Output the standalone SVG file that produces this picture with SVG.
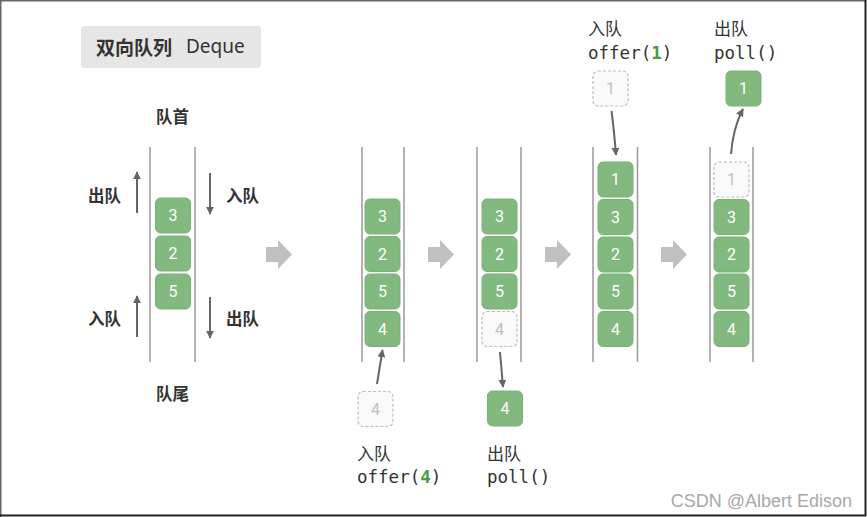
<svg xmlns="http://www.w3.org/2000/svg" width="867" height="517" viewBox="0 0 867 517">
<defs>
<marker id="ah" viewBox="0 0 10 10" refX="9" refY="5" markerWidth="8" markerHeight="8" markerUnits="userSpaceOnUse" orient="auto">
<path d="M0,0 L10,5 L0,10 z" fill="#666"/>
</marker>
<style>
.wall{stroke:#999;stroke-width:1.5;fill:none}
.box{fill:#82b97f;stroke:#7ab177;stroke-width:1}
.dbox{fill:#fafafa;stroke:#bdbdbd;stroke-width:1.2;stroke-dasharray:3 2}
.num{font-family:Roboto,"Open Sans",sans-serif;font-size:16px;fill:#fff;text-anchor:middle;dominant-baseline:central}
.dnum{font-family:Roboto,"Open Sans",sans-serif;font-size:16px;fill:#c0c0c0;text-anchor:middle;dominant-baseline:central}
.lab{font-family:"Noto Sans CJK SC","Noto Sans",sans-serif;font-size:16.5px;font-weight:bold;fill:#333;dominant-baseline:central}
.lab2{font-family:"Noto Sans CJK SC","Noto Sans",sans-serif;font-size:17px;fill:#333;dominant-baseline:central}
.mono{font-family:"DejaVu Sans Mono","Liberation Mono",monospace;font-size:17.5px;fill:#333;dominant-baseline:central}
.hl{font-weight:bold;fill:#4a9a46}
.arr{stroke:#666;stroke-width:2;fill:none;marker-end:url(#ah)}
.big{fill:#c0c0c0}
</style>
</defs>
<rect x="0" y="0" width="867" height="517" fill="#fff"/>
<path d="M0.75,517 V0.75 H866" stroke="#666" stroke-width="1.5" fill="none"/>
<path d="M865.5,0 V515.5 H0" stroke="#222" stroke-width="2" fill="none"/>

<g id="title">
<rect x="81" y="26" width="180" height="42" rx="3" fill="#e6e6e6"/>
<text x="96" y="46" class="lab" style="font-size:19px">双向队列</text>
<text x="186" y="46" style="font-family:'Noto Sans',sans-serif;font-size:19px;fill:#333;dominant-baseline:central">Deque</text>
</g>

<g id="stack1">
<line class="wall" x1="150" y1="147" x2="150" y2="362"/>
<line class="wall" x1="195" y1="147" x2="195" y2="362"/>
<rect class="box" x="155.5" y="198" width="35" height="35" rx="5"/><text class="num" x="173" y="215.5">3</text>
<rect class="box" x="155.5" y="236" width="35" height="35" rx="5"/><text class="num" x="173" y="253.5">2</text>
<rect class="box" x="155.5" y="274" width="35" height="35" rx="5"/><text class="num" x="173" y="291">5</text>
<text class="lab" x="172.5" y="116" text-anchor="middle">队首</text>
<text class="lab" x="172.5" y="393" text-anchor="middle">队尾</text>
<text class="lab" x="88" y="195">出队</text>
<text class="lab" x="226" y="195">入队</text>
<text class="lab" x="88" y="318">入队</text>
<text class="lab" x="226" y="318">出队</text>
</g>

<g id="stack2">
<line class="wall" x1="362" y1="147" x2="362" y2="362"/>
<line class="wall" x1="404" y1="147" x2="404" y2="362"/>
<rect class="box" x="365" y="199" width="35" height="35" rx="5"/><text class="num" x="382.5" y="216.5">3</text>
<rect class="box" x="365" y="236.5" width="35" height="35" rx="5"/><text class="num" x="382.5" y="254">2</text>
<rect class="box" x="365" y="274" width="35" height="35" rx="5"/><text class="num" x="382.5" y="291.5">5</text>
<rect class="box" x="365" y="311.5" width="35" height="35" rx="5"/><text class="num" x="382.5" y="329">4</text>
<rect class="dbox" x="358" y="391.5" width="35" height="35" rx="5"/><text class="dnum" x="375.5" y="409">4</text>
<text class="lab2" x="357" y="452">入队</text>
<text class="mono" x="357" y="477">offer(<tspan class="hl">4</tspan>)</text>
</g>

<g id="stack3">
<line class="wall" x1="477" y1="147" x2="477" y2="362"/>
<line class="wall" x1="521" y1="147" x2="521" y2="362"/>
<rect class="box" x="482" y="199" width="35" height="35" rx="5"/><text class="num" x="499.5" y="216.5">3</text>
<rect class="box" x="482" y="236.5" width="35" height="35" rx="5"/><text class="num" x="499.5" y="254">2</text>
<rect class="box" x="482" y="274" width="35" height="35" rx="5"/><text class="num" x="499.5" y="291.5">5</text>
<rect class="dbox" x="482" y="311.5" width="35" height="35" rx="5"/><text class="dnum" x="499.5" y="329">4</text>
<rect class="box" x="487.5" y="391" width="35" height="35" rx="5"/><text class="num" x="505" y="408.5">4</text>
<text class="lab2" x="487" y="452">出队</text>
<text class="mono" x="487" y="477">poll()</text>
</g>

<g id="stack4">
<line class="wall" x1="593" y1="147" x2="593" y2="362"/>
<line class="wall" x1="637.5" y1="147" x2="637.5" y2="362"/>
<rect class="box" x="598" y="162" width="35" height="35" rx="5"/><text class="num" x="615.5" y="179.5">1</text>
<rect class="box" x="598" y="199.5" width="35" height="35" rx="5"/><text class="num" x="615.5" y="217">3</text>
<rect class="box" x="598" y="237" width="35" height="35" rx="5"/><text class="num" x="615.5" y="254.5">2</text>
<rect class="box" x="598" y="274" width="35" height="35" rx="5"/><text class="num" x="615.5" y="291.5">5</text>
<rect class="box" x="598" y="311.5" width="35" height="35" rx="5"/><text class="num" x="615.5" y="329">4</text>
<rect class="dbox" x="593" y="71" width="35" height="35" rx="5"/><text class="dnum" x="610.5" y="88.5">1</text>
<text class="lab2" x="588" y="27">入队</text>
<text class="mono" x="588" y="53">offer(<tspan class="hl">1</tspan>)</text>
</g>

<g id="stack5">
<line class="wall" x1="710" y1="147" x2="710" y2="362"/>
<line class="wall" x1="753" y1="147" x2="753" y2="362"/>
<rect class="dbox" x="714" y="162" width="35" height="35" rx="5"/><text class="dnum" x="731.5" y="179.5">1</text>
<rect class="box" x="714" y="199.5" width="35" height="35" rx="5"/><text class="num" x="731.5" y="217">3</text>
<rect class="box" x="714" y="237" width="35" height="35" rx="5"/><text class="num" x="731.5" y="254.5">2</text>
<rect class="box" x="714" y="274" width="35" height="35" rx="5"/><text class="num" x="731.5" y="291.5">5</text>
<rect class="box" x="714" y="311.5" width="35" height="35" rx="5"/><text class="num" x="731.5" y="329">4</text>
<rect class="box" x="726" y="71" width="35" height="35" rx="5"/><text class="num" x="743.5" y="88.5">1</text>
<text class="lab2" x="714" y="27">出队</text>
<text class="mono" x="714" y="53">poll()</text>
</g>

<g id="connectors">
<line class="arr" x1="137" y1="213" x2="137" y2="172"/>
<line class="arr" x1="210" y1="173" x2="210" y2="214"/>
<line class="arr" x1="137" y1="337" x2="137" y2="296"/>
<line class="arr" x1="210" y1="297" x2="210" y2="338"/>
<line class="arr" x1="377" y1="384" x2="382.5" y2="350"/>
<line class="arr" x1="500" y1="352" x2="503" y2="387"/>
<path class="arr" d="M611.5,111 Q614,130 616,155"/>
<path class="arr" d="M731,154 Q733,128 743,109"/>
<polygon class="big" points="266,247 278,247 278,240 292,254.5 278,269 278,262 266,262"/>
<polygon class="big" points="428,247 440,247 440,240 454,254.5 440,269 440,262 428,262"/>
<polygon class="big" points="545,247 557,247 557,240 571,254.5 557,269 557,262 545,262"/>
<polygon class="big" points="661,247 673,247 673,240 687,254.5 673,269 673,262 661,262"/>
</g>

<text x="852" y="501" text-anchor="end" style="font-family:'Liberation Sans',Arial,sans-serif;font-size:18px;fill:#a8a8a8;dominant-baseline:central">CSDN @Albert Edison</text>
</svg>
